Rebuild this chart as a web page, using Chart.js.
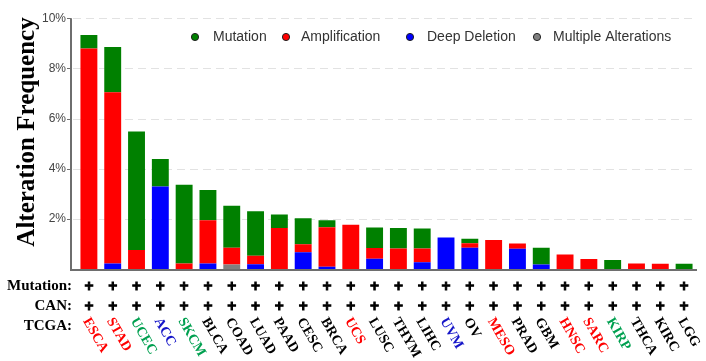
<!DOCTYPE html>
<html>
<head>
<meta charset="utf-8">
<script src="https://cdn.jsdelivr.net/npm/chart.js@4.4.1/dist/chart.umd.min.js"></script>
<style>
  html, body { margin: 0; padding: 0; background: #ffffff; }
  #wrap { width: 706px; height: 361px; }
</style>
</head>
<body>
<div id="wrap"><canvas id="c" width="706" height="361"></canvas></div>
<script>
// ---- data ----
const cancerTypes = ['ESCA','STAD','UCEC','ACC','SKCM','BLCA','COAD','LUAD','PAAD','CESC','BRCA','UCS','LUSC','THYM','LIHC','UVM','OV','MESO','PRAD','GBM','HNSC','SARC','KIRP','THCA','KIRC','LGG'];
const mutation      = [0.54, 1.80, 4.72, 1.10, 3.14, 1.21, 1.67, 1.77, 0.54, 1.03, 0.28, 0.00, 0.81, 0.81, 0.79, 0.00, 0.18, 0.00, 0.00, 0.67, 0.00, 0.00, 0.36, 0.00, 0.00, 0.21];
const amplification = [8.79, 6.83, 0.76, 0.00, 0.22, 1.72, 0.67, 0.34, 1.63, 0.32, 1.57, 1.76, 0.43, 0.82, 0.55, 0.00, 0.18, 1.16, 0.21, 0.00, 0.58, 0.40, 0.00, 0.22, 0.21, 0.00];
const deepDeletion  = [0.00, 0.22, 0.00, 3.29, 0.00, 0.22, 0.00, 0.19, 0.00, 0.67, 0.09, 0.00, 0.41, 0.00, 0.27, 1.26, 0.85, 0.00, 0.81, 0.18, 0.00, 0.00, 0.00, 0.00, 0.00, 0.00];
const multipleAlt   = [0.00, 0.00, 0.00, 0.00, 0.00, 0.00, 0.18, 0.00, 0.00, 0.00, 0.00, 0.00, 0.00, 0.00, 0.00, 0.00, 0.00, 0.00, 0.00, 0.00, 0.00, 0.00, 0.00, 0.00, 0.00, 0.00];
const yTicks = [0, 2, 4, 6, 8, 10];
const rowLabels = ['Mutation:', 'CAN:', 'TCGA:'];
const rowMarks = ['+', '+'];
const redLabels = ['ESCA','STAD','UCS','MESO','HNSC','SARC'];
const greenLabels = ['UCEC','SKCM','KIRP'];
const blueLabels = ['ACC','UVM'];

// ---- styles ----
const COL = { mut: '#008000', amp: '#ff0000', del: '#0000ff', mul: '#808080' };
const SERIF = '"Liberation Serif", "Times New Roman", serif';
const SANS = '"Liberation Sans", Arial, sans-serif';
function labelColor(l) {
  if (redLabels.includes(l)) return '#ff0000';
  if (greenLabels.includes(l)) return '#00a050';
  if (blueLabels.includes(l)) return '#1515c8';
  return '#000000';
}

const decor = {
  id: 'decor',
  beforeDatasetsDraw(chart) {
    const ctx = chart.ctx, y = chart.scales.y, a = chart.chartArea;
    const x0 = a.left - 6;
    ctx.save();
    // dashed grid
    ctx.strokeStyle = '#e2e2e2';
    ctx.lineWidth = 1;
    ctx.setLineDash([8, 5]);
    yTicks.forEach(v => {
      if (v === 0) return;
      const py = Math.round(y.getPixelForValue(v)) + 0.5;
      ctx.beginPath(); ctx.moveTo(x0 + 2, py); ctx.lineTo(a.right + 1, py); ctx.stroke();
    });
    ctx.setLineDash([]);
    // axes
    ctx.strokeStyle = '#6e6e6e';
    ctx.lineWidth = 2;
    ctx.beginPath();
    ctx.moveTo(x0, y.getPixelForValue(10));
    ctx.lineTo(x0, a.bottom + 1);
    ctx.lineTo(a.right + 1, a.bottom + 1);
    ctx.stroke();
    ctx.lineWidth = 1;
    yTicks.forEach(v => {
      if (v === 0) return;
      const py = Math.round(y.getPixelForValue(v)) + 0.5;
      ctx.beginPath(); ctx.moveTo(x0 - 4, py); ctx.lineTo(x0, py); ctx.stroke();
    });
    ctx.restore();
  },
  afterDraw(chart) {
    const ctx = chart.ctx, xs = chart.scales.x;
    ctx.save();
    // y title
    ctx.save();
    ctx.translate(34, 132);
    ctx.rotate(-Math.PI / 2);
    ctx.font = 'bold 25px ' + SERIF;
    ctx.fillStyle = '#000';
    ctx.textAlign = 'center';
    ctx.textBaseline = 'alphabetic';
    ctx.fillText('Alteration Frequency', 0, 0);
    ctx.restore();

    // legend
    const legendX = [[195, 213], [286, 301], [410, 427], [537, 553]];
    chart.data.datasets.slice().reverse().forEach((ds, i) => {
      const [dx, tx] = legendX[i];
      ctx.beginPath();
      ctx.arc(dx, 37, 3.6, 0, Math.PI * 2);
      ctx.fillStyle = ds.backgroundColor;
      ctx.fill();
      ctx.lineWidth = 1;
      ctx.strokeStyle = '#222';
      ctx.stroke();
      ctx.font = '14px ' + SANS;
      ctx.fillStyle = '#333';
      ctx.textAlign = 'left';
      ctx.textBaseline = 'middle';
      ctx.fillText(ds.label, tx, 37);
    });

    // row labels
    ctx.font = 'bold 15px ' + SERIF;
    ctx.fillStyle = '#000';
    ctx.textAlign = 'right';
    ctx.textBaseline = 'middle';
    const rowY = [286, 306, 326];
    rowLabels.forEach((t, i) => ctx.fillText(t, 72, rowY[i]));

    // plus marks (thickened text)
    ctx.font = 'bold 12px "DejaVu Sans", sans-serif';
    ctx.textAlign = 'center';
    ctx.textBaseline = 'middle';
    ctx.strokeStyle = '#000';
    ctx.lineWidth = 1.1;
    cancerTypes.forEach((c, i) => {
      const cx = xs.getPixelForValue(i);
      rowMarks.forEach((m, r) => {
        ctx.fillText(m, cx, rowY[r] + 1);
        ctx.strokeText(m, cx, rowY[r] + 1);
      });
    });

    // rotated cancer labels
    ctx.font = 'bold 14px ' + SERIF;
    ctx.textAlign = 'left';
    ctx.textBaseline = 'middle';
    cancerTypes.forEach((c, i) => {
      const cx = xs.getPixelForValue(i);
      ctx.save();
      ctx.translate(cx - 3, 319);
      ctx.rotate(Math.PI / 3);
      ctx.fillStyle = labelColor(c);
      ctx.fillText(c, 0, 0);
      ctx.restore();
    });
    ctx.restore();
  }
};

new Chart(document.getElementById('c'), {
  type: 'bar',
  data: {
    labels: cancerTypes,
    datasets: [
      { label: 'Multiple Alterations', data: multipleAlt, backgroundColor: COL.mul },
      { label: 'Deep Deletion', data: deepDeletion, backgroundColor: COL.del },
      { label: 'Amplification', data: amplification, backgroundColor: COL.amp },
      { label: 'Mutation', data: mutation, backgroundColor: COL.mut }
    ]
  },
  options: {
    responsive: false,
    animation: false,
    devicePixelRatio: 1,
    layout: { padding: { top: 10, right: 10, bottom: 92, left: 0 } },
    datasets: { bar: { barPercentage: 0.71, categoryPercentage: 1.0, borderWidth: 0 } },
    plugins: { legend: { display: false }, tooltip: { enabled: false } },
    scales: {
      x: { stacked: true, display: false },
      y: {
        stacked: true,
        min: 0, max: 10,
        afterFit(s) { s.width = 77; },
        afterBuildTicks(s) { s.ticks = yTicks.map(v => ({ value: v })); },
        ticks: {
          padding: 11,
          color: '#444',
          font: { family: SANS, size: 12 },
          callback: v => (v === 0 ? '' : v + '%')
        },
        grid: { display: false, drawTicks: false },
        border: { display: false }
      }
    }
  },
  plugins: [decor]
});
</script>
</body>
</html>
